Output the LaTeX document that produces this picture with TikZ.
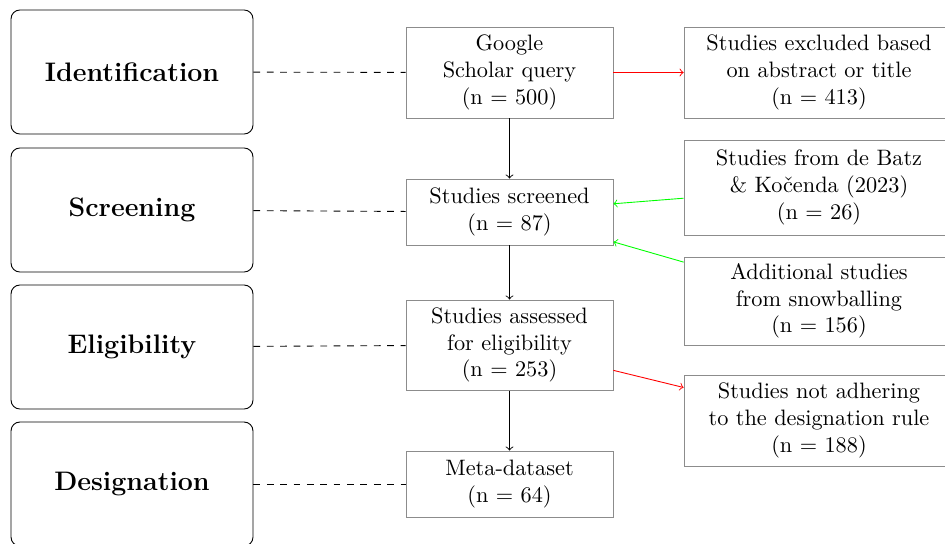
\documentclass[tikz,border=0pt]{standalone}
\usepackage{fontspec}
\begin{document}
\begin{tikzpicture}[x=0.4484pt,y=-0.4484pt,
  phase/.style={draw=black, rounded corners=4pt, minimum width=108.5pt, minimum height=55.6pt, font=\large\bfseries, inner sep=0pt},
  mid/.style={draw=gray!90, minimum width=92.8pt, align=center, inner sep=0pt},
  side/.style={draw=gray!90, minimum width=121pt, align=center, inner sep=0pt},
  link/.style={dashed},
  flow/.style={->},
  drop/.style={->, red},
  add/.style={->, green}]
\useasboundingbox (0,0) rectangle (945,543);
% phases
\node[phase] (ident) at (132,72) {Identification};
\node[phase] (screen) at (132,210) {Screening};
\node[phase] (elig) at (132,347) {Eligibility};
\node[phase] (desig) at (132,484) {Designation};
% main flow
\node[mid, minimum height=40.8pt] (google) at (509.5,72.5) {Google\\Scholar query\\(n = 500)};
\node[mid, minimum height=29.6pt] (screened) at (509.5,212) {Studies screened\\(n = 87)};
\node[mid, minimum height=40.4pt] (assessed) at (509.5,345) {Studies assessed\\for eligibility\\(n = 253)};
\node[mid, minimum height=29.6pt] (meta) at (509.5,484) {Meta-dataset\\(n = 64)};
% side boxes
\node[side, minimum height=40.8pt] (excl) at (819,72.5) {Studies excluded based\\on abstract or title\\(n = 413)};
\node[side, minimum height=42.6pt] (batz) at (819,187.5) {Studies from de Batz\\\& Kočenda (2023)\\(n = 26)};
\node[side, minimum height=39.5pt] (snow) at (819,301) {Additional studies\\from snowballing\\(n = 156)};
\node[side, minimum height=40.8pt] (notadh) at (819,420.5) {Studies not adhering\\to the designation rule\\(n = 188)};
% connectors
\draw[link] (ident) -- (google);
\draw[link] (screen) -- (screened);
\draw[link] (elig) -- (assessed);
\draw[link] (desig) -- (meta);
\draw[flow] (google) -- (screened);
\draw[flow] (screened) -- (assessed);
\draw[flow] (assessed) -- (meta);
\draw[drop] (google) -- (excl);
\draw[drop] (assessed) -- (notadh);
\draw[add] (batz) -- (screened);
\draw[add] (snow) -- (screened);
\end{tikzpicture}
\end{document}
